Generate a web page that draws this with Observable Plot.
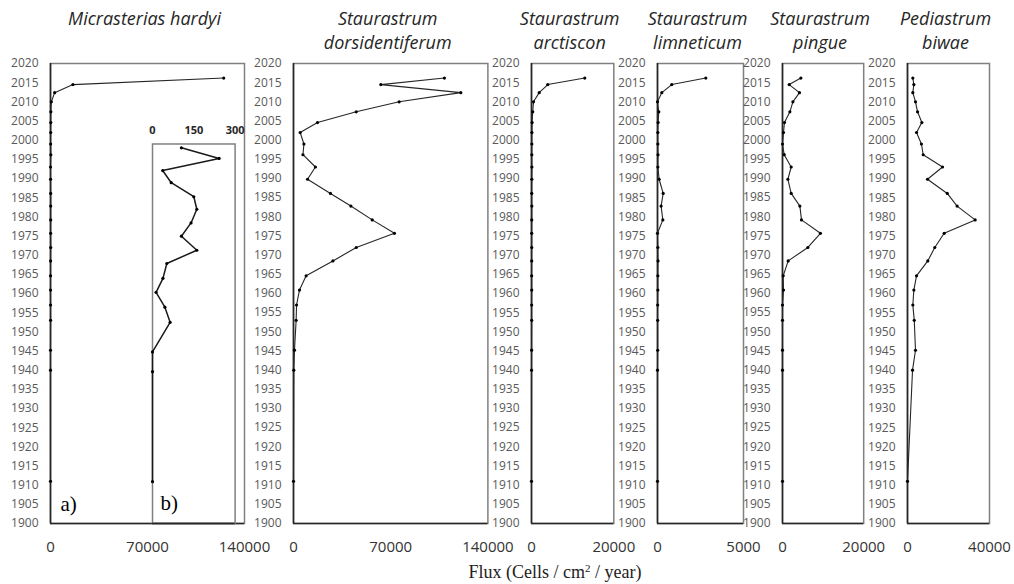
<!DOCTYPE html>
<html><head><meta charset="utf-8">
<script src="https://cdn.jsdelivr.net/npm/d3@7"></script>
<script src="https://cdn.jsdelivr.net/npm/@observablehq/plot@0.6"></script>
<style>
body{margin:0;background:#fff}
#chart{position:relative;width:1014px;height:584px;overflow:hidden;background:#fff}
#chart svg{position:absolute;top:0;overflow:visible}
#xlabel{position:absolute;left:405px;width:300px;top:561px;text-align:center;font-family:"Liberation Serif",serif;font-size:18px;color:#222;line-height:22px}
#xlabel sup{font-size:11px;vertical-align:6px;line-height:0}
</style></head><body>
<div id="chart"><div id="xlabel">Flux (Cells / cm<sup>2</sup> / year)</div></div>
<script>
// ---- data ----
const years = [2016.2, 2014.5, 2012.4, 2010.0, 2007.4, 2004.6, 2002.0, 1999.0, 1996.2, 1993.0, 1989.8, 1986.1, 1982.8, 1979.2, 1975.7, 1972.0, 1968.5, 1964.6, 1960.9, 1957.0, 1953.0, 1945.2, 1940.0, 1911.0];
const micrasterias = [125000, 16200, 3000, 600, 250, 200, 150, 105, 242, 37, 68, 150, 161, 140, 105, 161, 52, 38, 13, 45, 64, 0, 0, 0];
const dorsidentiferum = [108700, 62900, 120500, 76100, 45200, 17300, 4800, 7500, 6800, 15800, 10100, 26600, 41300, 56700, 72700, 45200, 28400, 9100, 4300, 2200, 1900, 700, 200, 0];
const arctiscon = [12950, 3960, 1870, 490, 300, 150, 100, 80, 80, 100, 80, 60, 80, 60, 50, 60, 50, 40, 60, 40, 50, 30, 20, 0];
const limneticum = [2810, 830, 250, 0, 75, 35, 20, 20, 30, 20, 95, 330, 210, 310, 0, 20, 30, 20, 20, 10, 10, 10, 0, 0];
const pingue = [4530, 1650, 4180, 2560, 1820, 490, 250, 0, 420, 2140, 1330, 2140, 4280, 4680, 9350, 6250, 1400, 170, 250, 0, 0, 0, 0, 0];
const biwae = [2600, 3100, 2600, 3900, 4900, 7000, 4400, 6800, 7650, 17100, 9760, 19400, 24200, 33000, 17900, 13300, 9900, 4400, 3100, 2600, 3300, 3900, 2450, 0];

const titles = [["Micrasterias hardyi"], ["Staurastrum", "dorsidentiferum"], ["Staurastrum", "arctiscon"], ["Staurastrum", "limneticum"], ["Staurastrum", "pingue"], ["Pediastrum", "biwae"]];
const seriesList = [micrasterias, dorsidentiferum, arctiscon, limneticum, pingue, biwae];
const xTicks = [[0, 70000, 140000], [0, 70000, 140000], [0, 20000], [0, 5000], [0, 20000], [0, 40000]];
const yTicks = d3.range(1900, 2021, 5);
const insetTicks = [0, 150, 300];
const insetTop = 2000;

// ---- layout (pixel frame positions) ----
const frames = [[49.5, 243.5], [293.3, 487.7], [531, 613.3], [656.7, 742.7], [782.3, 863.5], [907, 989]];
const H = 584, TOP = 63, BOTTOM = 61, ML = 50, MR = 30;
const chart = document.getElementById("chart");
const baseStyle = {fontFamily: "'Open Sans', sans-serif", background: "transparent", overflow: "visible"};

seriesList.forEach((vals, i) => {
  const [l, r] = frames[i];
  const data = years.map((y, j) => ({year: y, value: vals[j]}));
  const xmax = xTicks[i][xTicks[i].length - 1];
  const t = titles[i];
  const marks = [
    Plot.frame({stroke: "#808080", strokeWidth: 1.5}),
    Plot.ruleY([1900], {stroke: "#262626", strokeWidth: 1.6}),
    Plot.ruleX([0], {stroke: "#262626", strokeWidth: 1.6}),
    Plot.axisY({ticks: yTicks, tickSize: 0, tickPadding: 12, tickFormat: d => String(d), fill: "#595959", fontSize: 12, label: null}),
    Plot.axisX({ticks: xTicks[i], tickSize: 0, tickPadding: 18, tickFormat: d => String(d), fill: "#333", fontSize: 15, label: null}),
    Plot.line(data, {x: "value", y: "year", stroke: "#262626", strokeWidth: 1.1}),
    Plot.dot(data, {x: "value", y: "year", r: 1.6, fill: "#000"}),
    ...t.map((line, k) => Plot.text([line], {text: d => d, frameAnchor: "top", dx: -3, dy: k === 0 ? -51 : -27, fontStyle: "italic", fontSize: 18, fill: "#262626"}))
  ];
  if (i === 0) marks.push(Plot.text(["a)"], {text: d => d, frameAnchor: "bottom-left", textAnchor: "start", dx: 10, dy: -13, fontFamily: "'Liberation Serif', serif", fontSize: 21, fill: "#000"}));
  const svg = Plot.plot({
    width: r - l + ML + MR, height: H,
    marginLeft: ML, marginRight: MR, marginTop: TOP, marginBottom: BOTTOM,
    x: {domain: [0, xmax], label: null}, y: {domain: [1900, 2020], label: null},
    style: baseStyle, marks
  });
  svg.style.left = (l - ML) + "px";
  chart.appendChild(svg);
});

// ---- inset b) ----
{
  const il = 151.7, ir = 234.3, iml = 5, imr = 20;
  const data = years.map((y, j) => ({year: y, value: micrasterias[j]})).filter(d => d.year <= insetTop);
  const svg = Plot.plot({
    width: ir - il + iml + imr, height: H,
    marginLeft: iml, marginRight: imr, marginTop: 143.5, marginBottom: BOTTOM,
    x: {domain: [0, insetTicks[insetTicks.length - 1]], label: null},
    y: {domain: [1900, insetTop], axis: null, label: null},
    style: baseStyle,
    marks: [
      Plot.frame({stroke: "#808080", strokeWidth: 1.5}),
      Plot.ruleY([1900], {stroke: "#262626", strokeWidth: 1.6}),
      Plot.axisX({anchor: "top", ticks: insetTicks, tickSize: 0, tickPadding: 10, tickFormat: d => String(d), fill: "#262626", fontSize: 11, fontWeight: "bold", label: null}),
      Plot.line(data, {x: "value", y: "year", stroke: "#1a1a1a", strokeWidth: 1.5}),
      Plot.dot(data, {x: "value", y: "year", r: 1.6, fill: "#000"}),
      Plot.text(["b)"], {text: d => d, frameAnchor: "bottom-left", textAnchor: "start", dx: 8, dy: -13, fontFamily: "'Liberation Serif', serif", fontSize: 21, fill: "#000"})
    ]
  });
  svg.style.left = (il - iml) + "px";
  chart.appendChild(svg);
}
</script>
</body></html>
